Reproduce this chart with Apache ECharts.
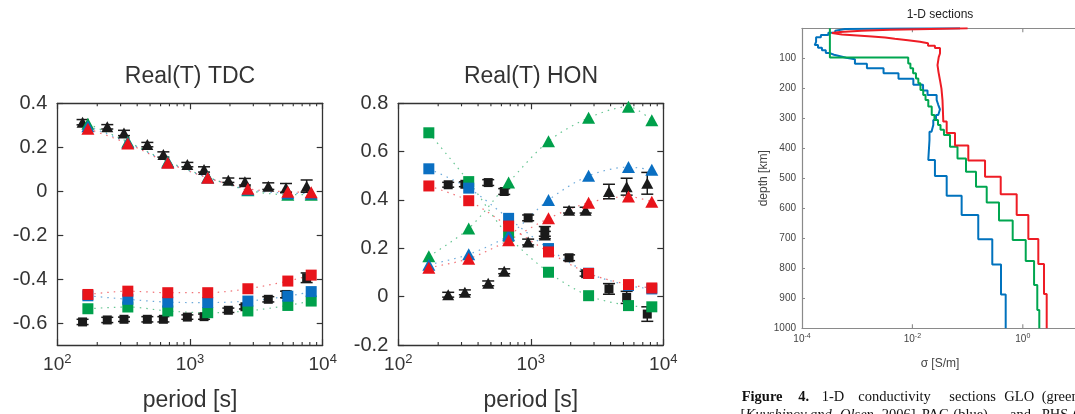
<!DOCTYPE html>
<html lang="en">
<head>
    <meta charset="UTF-8">
    <title>Real(T) TDC / HON and 1-D sections</title>
    <style>
        html, body { margin: 0; padding: 0; background: #fff; }
        #chart { width: 1075px; height: 414px; }
    </style>
</head>
<body>
    <div id="chart"></div>
    <script src="https://cdn.jsdelivr.net/npm/echarts@6/dist/echarts.min.js"></script>
    <script>
        // ---- periods [s]
        const periodsModel = [170, 340, 680, 1360, 2730, 5460, 8190]
        const periodsTDC = [155, 238, 318, 477, 630, 955, 1276, 1945, 2594, 3890, 5290, 7570]
        const periodsHON = [238, 318, 477, 630, 955, 1276, 1945, 2594, 3890, 5290, 7570]
        const minorPeriods = [200, 300, 400, 500, 600, 700, 800, 900, 2000, 3000, 4000, 5000, 6000, 7000, 8000, 9000]

        // ---- Real(T) TDC
        const tdcTriBlack = [0.314, 0.293, 0.265, 0.212, 0.167, 0.121, 0.099, 0.050, 0.043, 0.023, 0.015, 0.023]
        const tdcTriBlackErr = [0.012, 0.01, 0.012, 0.01, 0.012, 0.01, 0.012, 0.01, 0.015, 0.015, 0.02, 0.028]
        const tdcSqBlack = [-0.595, -0.586, -0.583, -0.583, -0.583, -0.573, -0.571, -0.542, -0.526, -0.492, -0.470, -0.394]
        const tdcSqBlackErr = [0.012, 0.012, 0.01, 0.012, 0.012, 0.01, 0.012, 0.01, 0.01, 0.012, 0.015, 0.022]
        const tdcTriGreen = [0.307, 0.225, 0.135, 0.064, 0.004, -0.016, -0.016]
        const tdcTriBlue = [0.296, 0.221, 0.132, 0.062, 0.008, -0.009, -0.010]
        const tdcTriRed = [0.284, 0.217, 0.129, 0.061, 0.011, -0.003, -0.005]
        const tdcSqGreen = [-0.535, -0.527, -0.545, -0.553, -0.545, -0.520, -0.500]
        const tdcSqBlue = [-0.476, -0.492, -0.505, -0.507, -0.500, -0.478, -0.457]
        const tdcSqRed = [-0.470, -0.455, -0.462, -0.462, -0.444, -0.409, -0.382]
        const tdcTicks = [-0.6, -0.4, -0.2, 0, 0.2, 0.4]

        // ---- Real(T) HON
        const honSqBlack = [0.463, 0.465, 0.472, 0.435, 0.326, 0.270, 0.161, 0.095, 0.032, -0.003, -0.072]
        const honSqBlackErr = [0.01, 0.01, 0.012, 0.012, 0.012, 0.02, 0.012, 0.01, 0.022, 0.025, 0.03]
        const honTriBlack = [0.008, 0.018, 0.055, 0.105, 0.226, 0.255, 0.358, 0.358, 0.435, 0.455, 0.469]
        const honTriBlackErr = [0.01, 0.01, 0.01, 0.01, 0.012, 0.015, 0.012, 0.012, 0.03, 0.035, 0.045]
        const honTriGreen = [0.167, 0.282, 0.472, 0.643, 0.740, 0.786, 0.730]
        const honTriBlue = [0.132, 0.175, 0.254, 0.400, 0.500, 0.536, 0.525]
        const honTriRed = [0.120, 0.157, 0.233, 0.324, 0.389, 0.414, 0.393]
        const honSqGreen = [0.678, 0.476, 0.250, 0.101, 0.004, -0.037, -0.042]
        const honSqBlue = [0.529, 0.449, 0.324, 0.199, 0.097, 0.046, 0.032]
        const honSqRed = [0.458, 0.397, 0.292, 0.185, 0.096, 0.050, 0.036]

        // ---- 1-D sections: layer tops [km] and conductivity [S/m]
        const gloDepth = [0, 97, 117, 133, 150, 167, 183, 206, 222, 239, 261, 289, 306, 322, 338, 356, 395, 434, 478, 528, 581, 641, 706, 776, 856, 939]
        const gloSigma = [3.2e-4, 8.4e-3, 9.2e-3, 0.0103, 0.0116, 0.0128, 0.014, 0.0157, 0.0173, 0.0194, 0.0224, 0.0251, 0.0291, 0.0323, 0.0373, 0.048, 0.0656, 0.0935, 0.142, 0.222, 0.371, 0.656, 1.13, 1.60, 1.83, 1.99]
        const phsDepth = [0, 2, 5, 8, 12, 16, 21, 24, 27, 31, 35, 40, 45, 50, 58, 66, 84, 96, 123, 146, 173, 201, 240, 311, 349, 391, 441, 495, 553, 622, 702, 786, 886]
        const phsSigma = [0.10, 0.021, 3.9e-3, 1.2e-3, 4.9e-4, 3.5e-4, 5.3e-4, 1.0e-3, 1.85e-3, 3.2e-3, 4.8e-3, 8.3e-3, 0.0137, 0.0192, 0.0256, 0.0316, 0.030, 0.0285, 0.0297, 0.0316, 0.0336, 0.0351, 0.0363, 0.0418, 0.0592, 0.103, 0.207, 0.398, 0.775, 1.26, 1.91, 2.42, 2.71]
        const pacDepth = [0, 1, 2, 8, 15, 22, 30, 45, 56, 65, 73, 82, 88, 93, 98, 103, 118, 133, 150, 168, 188, 207, 222, 239, 255, 270, 289, 306, 322, 345, 372, 439, 492, 558, 622, 703, 787, 887]
        const pacSigma = [0.073, 6.0e-3, 6.0e-4, 4.0e-4, 3.0e-4, 2.2e-4, 1.8e-4, 1.7e-4, 1.95e-4, 2.3e-4, 2.7e-4, 3.1e-4, 3.8e-4, 4.9e-4, 6.3e-4, 9.1e-4, 1.5e-3, 3.0e-3, 5.6e-3, 0.0104, 0.0156, 0.0188, 0.0275, 0.0294, 0.0316, 0.0294, 0.0268, 0.0239, 0.0222, 0.0204, 0.0194, 0.0256, 0.0418, 0.078, 0.156, 0.28, 0.403, 0.49]
        const sigmaTicks = [0.01, 1]

        const ink = '#333'
        const black = '#1a1a1a'
        const red = '#e8141b'
        const green = '#00a04b'
        const blue = '#0a6fc2'
        const sans = 'Liberation Sans, Arial, sans-serif'
        const serif = 'Liberation Serif, Times New Roman, serif'

        const chart = echarts.init(document.getElementById('chart'))

        const pairs = (xs, ys) => xs.map((x, i) => [x, ys[i]])

        function stepPath (depths, sigmas) {
            const pts = []
            sigmas.forEach((s, i) => {
                const next = i + 1 < depths.length ? depths[i + 1] : 1000
                pts.push([s, depths[i]], [s, next])
            })
            return pts
        }

        const supRich = (big, small, color) => ({
            b: { fontSize: big, fontFamily: sans, color, lineHeight: big + 4 },
            s: { fontSize: small, fontFamily: sans, color, verticalAlign: 'top', lineHeight: small + 2 }
        })

        function periodAxis (g, bottom) {
            return {
                type: 'log', logBase: 10, gridIndex: g, position: bottom ? 'bottom' : 'top',
                min: 100, max: 10000,
                name: bottom ? 'period [s]' : '', nameLocation: 'middle', nameGap: 44,
                nameTextStyle: { fontSize: 23, color: ink, fontFamily: sans },
                axisLine: { show: true, onZero: false, lineStyle: { color: ink, width: 1.3 } },
                axisTick: { show: true, inside: true, length: 6, lineStyle: { color: ink, width: 1.2 } },
                axisLabel: {
                    show: bottom, margin: 8,
                    formatter: v => `{b|10}{s|${Math.round(Math.log10(v))}}`,
                    rich: supRich(19, 13, ink)
                },
                splitLine: { show: false }
            }
        }

        function realAxis (g, left, min, max, ticks) {
            return {
                type: 'value', gridIndex: g, position: left ? 'left' : 'right',
                min, max, interval: 0.1,
                axisLine: { show: true, onZero: false, lineStyle: { color: ink, width: 1.3 } },
                axisTick: { show: true, inside: true, length: 6, customValues: ticks, lineStyle: { color: ink, width: 1.2 } },
                axisLabel: { show: left, customValues: ticks, margin: 10, fontSize: 20, color: ink, fontFamily: sans },
                splitLine: { show: false }
            }
        }

        // short tick marks drawn on top and bottom of a grid at given x values
        function tickMarks (g, values, len, color) {
            return {
                type: 'custom', xAxisIndex: 2 * g, yAxisIndex: 2 * g, silent: true, z: 1,
                data: values.map(v => [v, 0]),
                encode: { x: 0, y: 1 },
                renderItem (params, api) {
                    const r = params.coordSys
                    const x = api.coord([api.value(0), 0])[0]
                    const st = { stroke: color, lineWidth: 1.1 }
                    return {
                        type: 'group', children: [
                            { type: 'line', shape: { x1: x, y1: r.y + r.height, x2: x, y2: r.y + r.height - len }, style: st },
                            { type: 'line', shape: { x1: x, y1: r.y, x2: x, y2: r.y + len }, style: st }
                        ]
                    }
                }
            }
        }

        function errorBars (g, xs, ys, errs) {
            return {
                type: 'custom', xAxisIndex: 2 * g, yAxisIndex: 2 * g, silent: true, z: 3,
                data: xs.map((x, i) => [x, ys[i], errs[i]]),
                encode: { x: 0, y: 1 },
                renderItem (params, api) {
                    const x = api.value(0), y = api.value(1), e = api.value(2)
                    const lo = api.coord([x, y - e]), hi = api.coord([x, y + e])
                    const w = 6
                    const st = { stroke: black, lineWidth: 1.5 }
                    return {
                        type: 'group', children: [
                            { type: 'line', shape: { x1: lo[0], y1: lo[1], x2: hi[0], y2: hi[1] }, style: st },
                            { type: 'line', shape: { x1: lo[0] - w, y1: lo[1], x2: lo[0] + w, y2: lo[1] }, style: st },
                            { type: 'line', shape: { x1: hi[0] - w, y1: hi[1], x2: hi[0] + w, y2: hi[1] }, style: st }
                        ]
                    }
                }
            }
        }

        function dotted (g, ys, color) {
            return {
                type: 'line', xAxisIndex: 2 * g, yAxisIndex: 2 * g, symbol: 'none', smooth: 0.3, z: 2,
                silent: true, data: pairs(periodsModel, ys),
                lineStyle: { color, width: 1.2, type: [1.5, 5], opacity: 0.6 }
            }
        }

        function marks (g, xs, ys, shape, color, z) {
            const size = shape === 'triangle' ? (color === black ? [12, 11] : [13, 12]) : (color === black ? 9 : 11)
            return {
                type: 'scatter', xAxisIndex: 2 * g, yAxisIndex: 2 * g, symbol: shape, symbolSize: size, z,
                data: pairs(xs, ys), itemStyle: { color, opacity: 1 }
            }
        }

        function panelSeries (g, d) {
            return [
                tickMarks(g, minorPeriods, 3, ink),
                dotted(g, d.triGreen, green), dotted(g, d.triBlue, blue), dotted(g, d.triRed, red),
                dotted(g, d.sqGreen, green), dotted(g, d.sqBlue, blue), dotted(g, d.sqRed, red),
                errorBars(g, d.periodsBlack, d.triBlack, d.triBlackErr),
                errorBars(g, d.periodsBlack, d.sqBlack, d.sqBlackErr),
                marks(g, d.periodsBlack, d.triBlack, 'triangle', black, 4),
                marks(g, d.periodsBlack, d.sqBlack, 'rect', black, 4),
                marks(g, periodsModel, d.triGreen, 'triangle', green, 5),
                marks(g, periodsModel, d.sqGreen, 'rect', green, 5),
                marks(g, periodsModel, d.triBlue, 'triangle', blue, 6),
                marks(g, periodsModel, d.sqBlue, 'rect', blue, 6),
                marks(g, periodsModel, d.triRed, 'triangle', red, 7),
                marks(g, periodsModel, d.sqRed, 'rect', red, 7)
            ]
        }

        const sectionInk = '#444'
        const sectionFrame = '#8a8a8a'
        function sigmaAxis (bottom) {
            return {
                type: 'log', logBase: 10, gridIndex: 2, position: bottom ? 'bottom' : 'top',
                min: 1e-4, max: 10,
                name: bottom ? 'σ [S/m]' : '', nameLocation: 'middle', nameGap: 29,
                nameTextStyle: { fontSize: 12, color: sectionInk, fontFamily: sans },
                axisLine: { show: true, onZero: false, lineStyle: { color: sectionFrame, width: 1.2 } },
                axisTick: { show: false },
                axisLabel: {
                    show: bottom, margin: 4,
                    formatter: v => {
                        const e = Math.round(Math.log10(v))
                        return e % 2 === 0 ? `{b|10}{s|${e}}` : ''
                    },
                    rich: supRich(10, 7, sectionInk)
                },
                splitLine: { show: false }
            }
        }

        const captionLine1 = [
            ['Figure', 741.7, 'bold', 'normal'], ['4.', 798.3, 'bold', 'normal'], ['1-D', 821.7, 'normal', 'normal'],
            ['conductivity', 858.3, 'normal', 'normal'], ['sections', 949.3, 'normal', 'normal'],
            ['GLO', 1004.3, 'normal', 'normal'], ['(green)', 1041.7, 'normal', 'normal']
        ]
        const captionLine2 = [
            ['[', 740.5, 'normal', 'normal'], ['Kuvshinov', 745.5, 'normal', 'italic'], ['and', 810, 'normal', 'italic'],
            ['Olsen', 840, 'normal', 'italic'], [',', 875, 'normal', 'normal'], ['2006],', 881.7, 'normal', 'normal'],
            ['PAC', 921.7, 'normal', 'normal'], ['(blue),', 953.3, 'normal', 'normal'], ['and', 1010, 'normal', 'normal'],
            ['PHS', 1041.7, 'normal', 'normal'], ['(red)', 1073, 'normal', 'normal']
        ]
        const captionText = (words, y) => words.map(w => ({
            type: 'text', x: w[1], y,
            style: {
                text: w[0], align: 'left', verticalAlign: 'middle', fill: '#111',
                font: `${w[3]} ${w[2]} 14.5px ${serif}`
            }
        }))

        chart.setOption({
            animation: false,
            backgroundColor: '#fff',
            grid: [
                { left: 57.3, top: 103.3, width: 265.4, height: 241.7, outerBoundsMode: 'none' },
                { left: 398.3, top: 103.3, width: 265, height: 241.7, outerBoundsMode: 'none' },
                { left: 802, top: 28.3, width: 276, height: 300, outerBoundsMode: 'none' }
            ],
            xAxis: [
                periodAxis(0, true), periodAxis(0, false),
                periodAxis(1, true), periodAxis(1, false),
                sigmaAxis(true), sigmaAxis(false)
            ],
            yAxis: [
                realAxis(0, true, -0.7, 0.4, tdcTicks), realAxis(0, false, -0.7, 0.4, tdcTicks),
                {
                    type: 'value', gridIndex: 1, position: 'left', min: -0.2, max: 0.8, interval: 0.2,
                    axisLine: { show: true, onZero: false, lineStyle: { color: ink, width: 1.3 } },
                    axisTick: { show: true, inside: true, length: 6, lineStyle: { color: ink, width: 1.2 } },
                    axisLabel: { margin: 10, fontSize: 20, color: ink, fontFamily: sans },
                    splitLine: { show: false }
                },
                {
                    type: 'value', gridIndex: 1, position: 'right', min: -0.2, max: 0.8, interval: 0.2,
                    axisLine: { show: true, onZero: false, lineStyle: { color: ink, width: 1.3 } },
                    axisTick: { show: true, inside: true, length: 6, lineStyle: { color: ink, width: 1.2 } },
                    axisLabel: { show: false },
                    splitLine: { show: false }
                },
                {
                    type: 'value', gridIndex: 2, position: 'left', inverse: true, min: 0, max: 1000, interval: 100,
                    name: 'depth [km]', nameLocation: 'middle', nameGap: 29, nameRotate: 90,
                    nameTextStyle: { fontSize: 12, color: sectionInk, fontFamily: sans },
                    axisLine: { show: true, onZero: false, lineStyle: { color: sectionFrame, width: 1.2 } },
                    axisTick: { show: true, inside: true, length: 3, lineStyle: { color: sectionFrame } },
                    axisLabel: { margin: 6, fontSize: 10, color: sectionInk, fontFamily: sans, formatter: v => v === 0 ? '' : v },
                    splitLine: { show: false }
                },
                {
                    type: 'value', gridIndex: 2, position: 'right', inverse: true, min: 0, max: 1000, interval: 100,
                    axisLine: { show: false }, axisTick: { show: false }, axisLabel: { show: false }, splitLine: { show: false }
                }
            ],
            series: [
                ...panelSeries(0, {
                    periodsBlack: periodsTDC,
                    triBlack: tdcTriBlack, triBlackErr: tdcTriBlackErr, sqBlack: tdcSqBlack, sqBlackErr: tdcSqBlackErr,
                    triGreen: tdcTriGreen, triBlue: tdcTriBlue, triRed: tdcTriRed,
                    sqGreen: tdcSqGreen, sqBlue: tdcSqBlue, sqRed: tdcSqRed
                }),
                ...panelSeries(1, {
                    periodsBlack: periodsHON,
                    triBlack: honTriBlack, triBlackErr: honTriBlackErr, sqBlack: honSqBlack, sqBlackErr: honSqBlackErr,
                    triGreen: honTriGreen, triBlue: honTriBlue, triRed: honTriRed,
                    sqGreen: honSqGreen, sqBlue: honSqBlue, sqRed: honSqRed
                }),
                tickMarks(2, sigmaTicks, 4, sectionFrame),
                {
                    type: 'line', name: 'PAC', xAxisIndex: 4, yAxisIndex: 4, symbol: 'none', z: 3,
                    data: stepPath(pacDepth, pacSigma), lineStyle: { color: '#0072bd', width: 2 }
                },
                {
                    type: 'line', name: 'GLO', xAxisIndex: 4, yAxisIndex: 4, symbol: 'none', z: 4,
                    data: stepPath(gloDepth, gloSigma), lineStyle: { color: '#00a650', width: 2 }
                },
                {
                    type: 'line', name: 'PHS', xAxisIndex: 4, yAxisIndex: 4, symbol: 'none', z: 5,
                    data: stepPath(phsDepth, phsSigma), lineStyle: { color: '#ee1c25', width: 2 }
                }
            ],
            graphic: [
                { type: 'text', x: 190, y: 77, style: { text: 'Real(T) TDC', align: 'center', verticalAlign: 'middle', fill: ink, font: `normal 23px ${sans}` } },
                { type: 'text', x: 531, y: 77, style: { text: 'Real(T) HON', align: 'center', verticalAlign: 'middle', fill: ink, font: `normal 23px ${sans}` } },
                { type: 'text', x: 940, y: 15, style: { text: '1-D sections', align: 'center', verticalAlign: 'middle', fill: '#222', font: `normal 12px ${sans}` } },
                ...captionText(captionLine1, 397),
                ...captionText(captionLine2, 415)
            ]
        })
    </script>
</body>
</html>
